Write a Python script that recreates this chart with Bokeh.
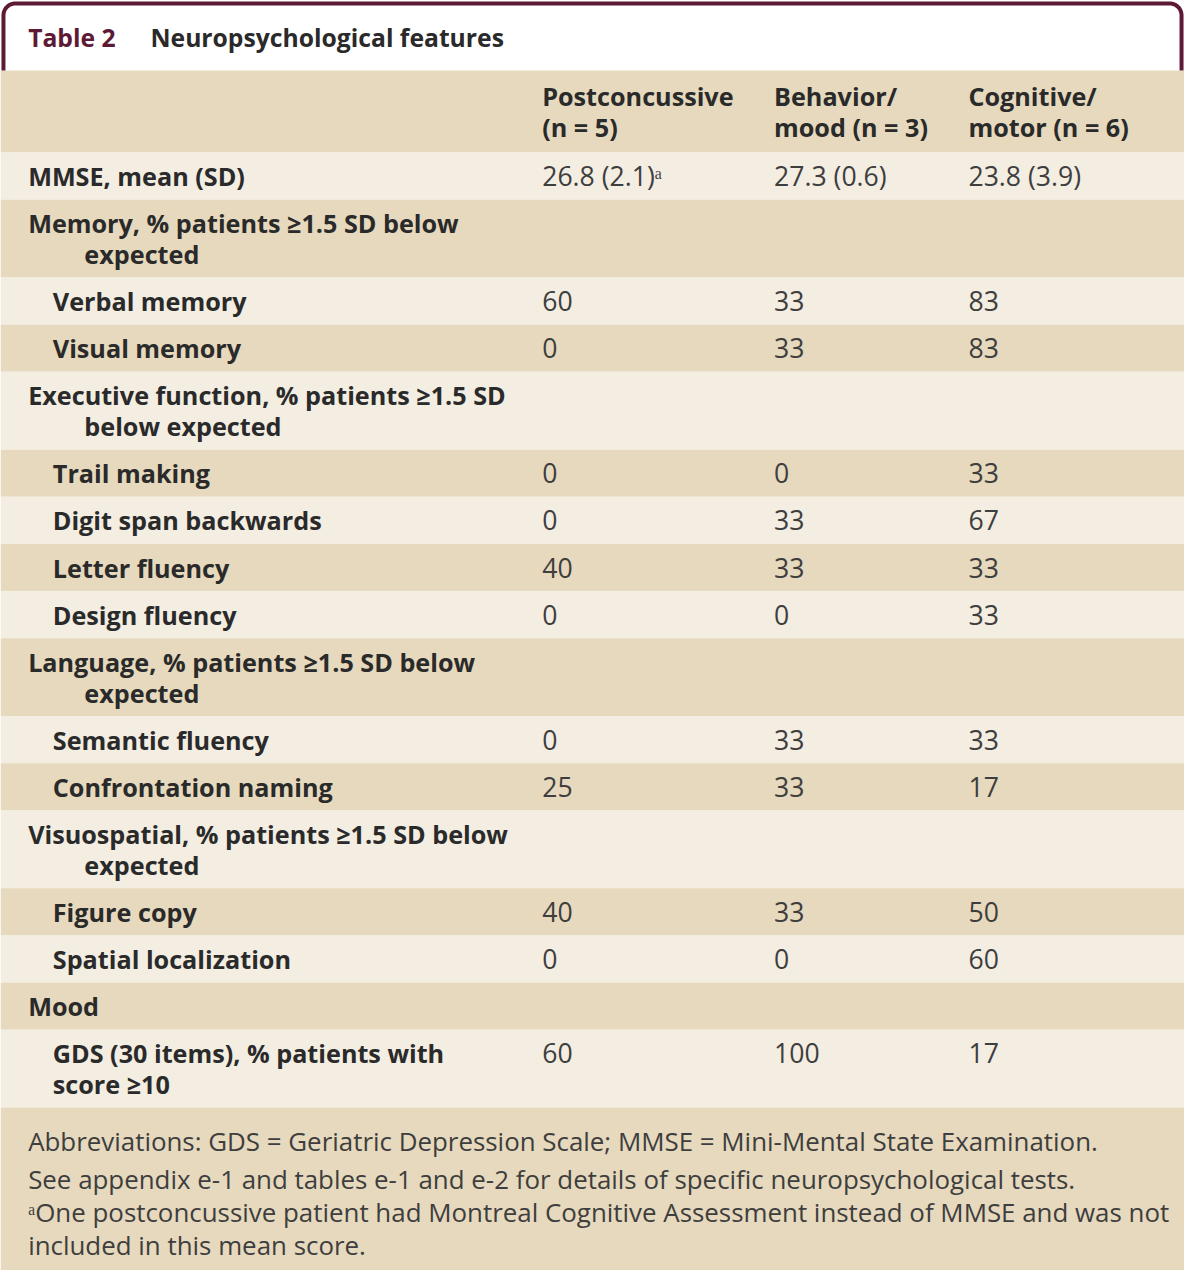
from bokeh.plotting import figure
from bokeh.models import Range1d
from bokeh.core.properties import value
from bokeh.embed import file_html
from bokeh.resources import INLINE
import numpy as np

# ---------------- data ----------------
table_number = "Table 2"
table_title = "Neuropsychological features"
col_headers = [["Postconcussive", "(n = 5)"],
               ["Behavior/", "mood (n = 3)"],
               ["Cognitive/", "motor (n = 6)"]]

row_labels = [
    ["MMSE, mean (SD)"],
    ["Memory, % patients \u22651.5 SD below", "expected"],
    ["Verbal memory"],
    ["Visual memory"],
    ["Executive function, % patients \u22651.5 SD", "below expected"],
    ["Trail making"],
    ["Digit span backwards"],
    ["Letter fluency"],
    ["Design fluency"],
    ["Language, % patients \u22651.5 SD below", "expected"],
    ["Semantic fluency"],
    ["Confrontation naming"],
    ["Visuospatial, % patients \u22651.5 SD below", "expected"],
    ["Figure copy"],
    ["Spatial localization"],
    ["Mood"],
    ["GDS (30 items), % patients with", "score \u226510"],
]
row_level = [0, 0, 1, 1, 0, 1, 1, 1, 1, 0, 1, 1, 0, 1, 1, 0, 1]

postconcussive = ["26.8 (2.1)\u1d43", "", "60", "0", "", "0", "0", "40", "0", "", "0", "25", "", "40", "0", "", "60"]
behavior_mood = ["27.3 (0.6)", "", "33", "33", "", "0", "33", "33", "0", "", "33", "33", "", "33", "0", "", "100"]
cognitive_motor = ["23.8 (3.9)", "", "83", "83", "", "33", "67", "33", "33", "", "33", "17", "", "50", "60", "", "17"]

footnotes = [
    "Abbreviations: GDS = Geriatric Depression Scale; MMSE = Mini-Mental State Examination.",
    "See appendix e-1 and tables e-1 and e-2 for details of specific neuropsychological tests.",
    "\u1d43One postconcussive patient had Montreal Cognitive Assessment instead of MMSE and was not",
    "included in this mean score.",
]

# ---------------- styling ----------------
DARK = "#E6D9BD"
LIGHT = "#F3EDE2"
MAROON = "#5E1A35"
TXT = "#2A2A2A"
VAL = "#3E3E3E"
FONT = "Open Sans"

W, H = 1184, 1270
RW, RH = 1200, 1286
sc = W / RW
def fs(px):
    return f"{px * sc:.1f}px"

p = figure(width=W, height=H, x_range=Range1d(0, RW), y_range=Range1d(RH, 0),
           output_backend="svg", toolbar_location=None, min_border=0)
p.axis.visible = False
p.grid.visible = False
p.outline_line_color = None
p.background_fill_color = "white"
p.border_fill_color = "white"

# layout
title_bottom = 71
header_h = 83
single_h = 47.75
double_h = 78.8
line_gap = 31
col_x = [549, 784, 981]
label_x0 = [28, 53]
cont_x = [85, 53]

# row bands
tops, bottoms, colors = [], [], []
tops.append(title_bottom); bottoms.append(title_bottom + header_h); colors.append(DARK)
y = title_bottom + header_h
row_centers = []
for i, lab in enumerate(row_labels):
    h = single_h if len(lab) == 1 else double_h
    tops.append(y); bottoms.append(y + h)
    colors.append(LIGHT if i % 2 == 0 else DARK)
    row_centers.append(y + h / 2)
    y += h
foot_top = y
tops.append(foot_top); bottoms.append(RH); colors.append(DARK)
p.quad(left=0, right=RW, top=tops, bottom=bottoms, fill_color=colors, line_color=None)

# frame (rounded top)
r = 12
lw_x, rw_x, ty = 3, 1197, 3
th = np.linspace(np.pi, 1.5 * np.pi, 12)
left_arc_x = (lw_x + r) + r * np.cos(th)
left_arc_y = (ty + r) + r * np.sin(th)
th2 = np.linspace(1.5 * np.pi, 2 * np.pi, 12)
right_arc_x = (rw_x - r) + r * np.cos(th2)
right_arc_y = (ty + r) + r * np.sin(th2)
fx = [lw_x] + list(left_arc_x) + list(right_arc_x) + [rw_x]
fy = [title_bottom] + list(left_arc_y) + list(right_arc_y) + [title_bottom]
p.line(fx, fy, line_color=MAROON, line_width=4)

# title
p.text(x=[28], y=[37], text=[table_number], text_color=MAROON, text_font=value(FONT),
       text_font_size=fs(25), text_font_style="bold", text_baseline="middle")
p.text(x=[152], y=[37], text=[table_title], text_color=TXT, text_font=value(FONT),
       text_font_size=fs(25), text_font_style="bold", text_baseline="middle")

# column headers
hc = title_bottom + header_h / 2
hx, hy, ht = [], [], []
for cx, lines in zip(col_x, col_headers):
    for k, ln in enumerate(lines):
        hx.append(cx); hy.append(hc - line_gap / 2 + k * line_gap); ht.append(ln)
p.text(x=hx, y=hy, text=ht, text_color=TXT, text_font=value(FONT), text_font_size=fs(25.5),
       text_font_style="bold", text_baseline="middle")

# row labels
lx, ly, lt = [], [], []
for lab, lev, c in zip(row_labels, row_level, row_centers):
    n = len(lab)
    for k, ln in enumerate(lab):
        lx.append(label_x0[lev] if k == 0 else cont_x[lev])
        ly.append(c - (n - 1) * line_gap / 2 + k * line_gap)
        lt.append(ln)
p.text(x=lx, y=ly, text=lt, text_color=TXT, text_font=value(FONT), text_font_size=fs(25.5),
       text_font_style="bold", text_baseline="middle")

# values
vx, vy, vt = [], [], []
for series, cx in zip([postconcussive, behavior_mood, cognitive_motor], col_x):
    for v, lab, c in zip(series, row_labels, row_centers):
        if v == "":
            continue
        n = len(lab)
        vx.append(cx); vy.append(c - (n - 1) * line_gap / 2); vt.append(v)
p.text(x=vx, y=vy, text=vt, text_color=VAL, text_font=value(FONT), text_font_size=fs(27),
       text_baseline="middle")

# footnotes
foot_offsets = [34, 72, 106, 139]
p.text(x=[28] * len(footnotes), y=[foot_top + o for o in foot_offsets], text=footnotes,
       text_color=VAL, text_font=value(FONT), text_font_size=fs(26.2), text_baseline="middle")

open("out.html", "w").write(file_html(p, INLINE))
